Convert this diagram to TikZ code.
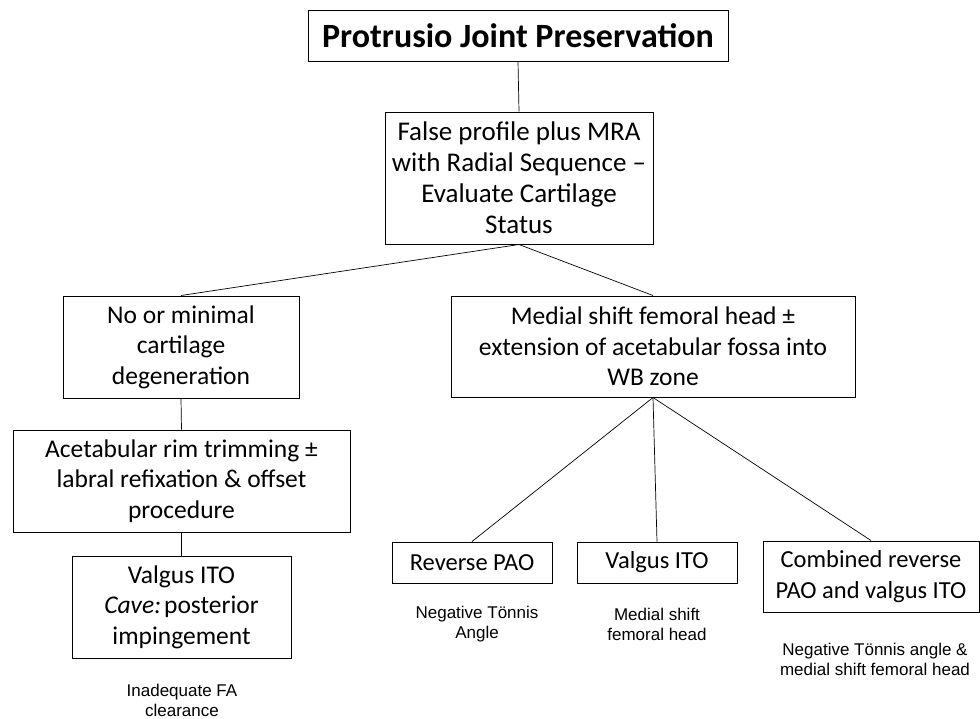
\documentclass[tikz,border=0pt]{standalone}
\usepackage{fontspec}
\setmainfont{Carlito}
\newfontfamily\notefont{Liberation Sans}
\begin{document}
\begin{tikzpicture}[x=1pt,y=-1pt,
  box/.style={draw, line width=1pt, inner sep=0pt, align=center, font=\fontsize{25.5}{30.5}\selectfont},
  big/.style={font=\fontsize{27}{31}\selectfont},
  small/.style={font=\fontsize{24.5}{30.5}\selectfont},
  note/.style={align=center, inner sep=0pt, font=\notefont\fontsize{17}{20}\selectfont},
  conn/.style={line width=0.7pt}]
\useasboundingbox (0,0) rectangle (980,718);
\node[box, minimum width=420pt, minimum height=51pt, font=\bfseries\fontsize{34}{36}\selectfont] (title) at (518,35.5) {Protrusio Joint Preservation};
\node[box, big, minimum width=268pt, minimum height=132pt] (eval) at (519,178) {False profile plus MRA\\with Radial Sequence --\\Evaluate Cartilage\\Status};
\node[box, minimum width=236pt, minimum height=102pt] (nomin) at (181,347) {No or minimal\\cartilage\\degeneration};
\node[box, minimum width=337pt, minimum height=102pt] (rim) at (181.5,481) {Acetabular rim trimming ±\\labral refixation \& offset\\procedure};
\node[box, minimum width=219pt, minimum height=102pt] (vall) at (181.5,607) {Valgus ITO\\{\itshape Cave:}\hskip0.12em posterior\\impingement};
\node[box, minimum width=404pt, minimum height=101pt] (medial) at (653,346.5) {Medial shift femoral head ±\\extension of acetabular fossa into\\WB zone};
\node[box, small, minimum width=160pt, minimum height=41pt] (rev) at (472,562.5) {Reverse PAO};
\node[box, small, minimum width=160pt, minimum height=41pt] (valr) at (657,562.5) {Valgus ITO};
\node[box, small, minimum width=216pt, minimum height=71pt] (comb) at (871,576.5) {Combined reverse\\PAO and valgus ITO};
\node[note] (n1) at (182,700) {Inadequate FA\\clearance};
\node[note] (n2) at (477,624) {Negative Tönnis\\Angle};
\node[note] (n3) at (657,624) {Medial shift\\femoral head};
\node[note] (n4) at (875,659) {Negative Tönnis angle \&\\medial shift femoral head};
\draw[conn] (title.south) -- (eval.north);
\draw[conn] (eval.south) -- (nomin.north);
\draw[conn] (eval.south) -- (medial.north);
\draw[conn] (nomin.south) -- (rim.north);
\draw[conn] (rim.south) -- (vall.north);
\draw[conn] (medial.south) -- (rev.north);
\draw[conn] (medial.south) -- (valr.north);
\draw[conn] (medial.south) -- (comb.north);
\end{tikzpicture}
\end{document}
